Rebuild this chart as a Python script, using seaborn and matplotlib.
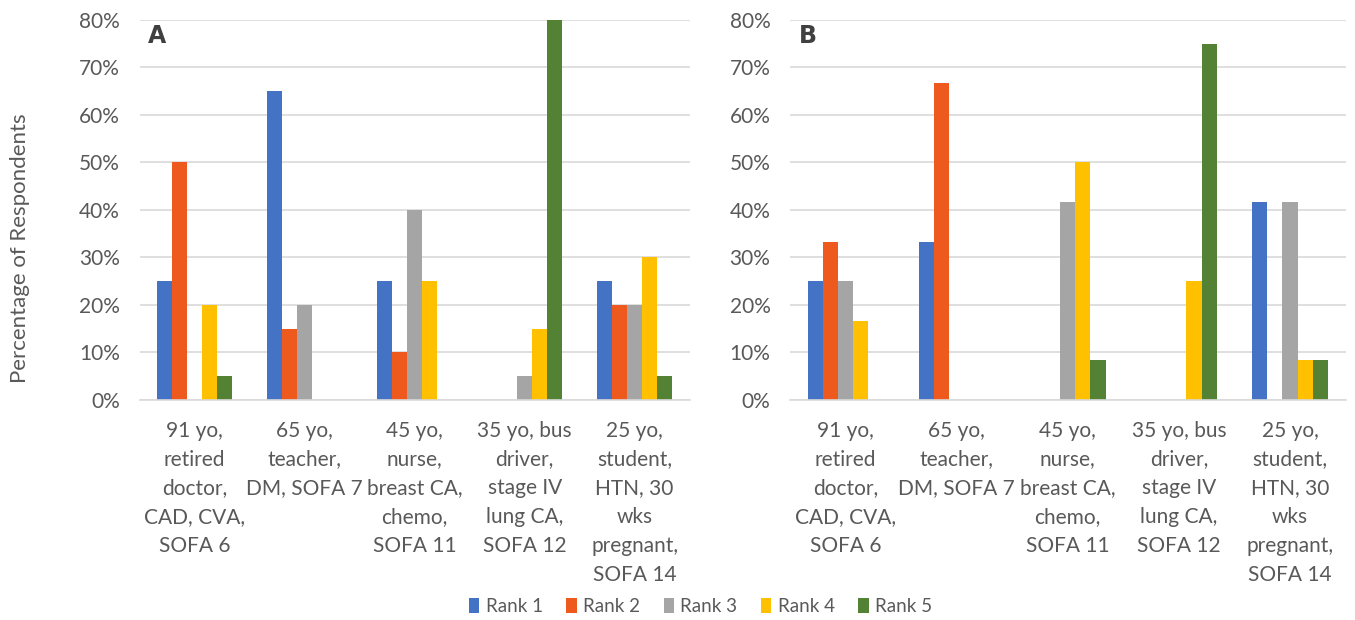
import matplotlib
matplotlib.use("Agg")
import matplotlib.pyplot as plt
from matplotlib.ticker import PercentFormatter, MultipleLocator
import seaborn as sns
import pandas as pd

cases = [
    "91 yo,\nretired\ndoctor,\nCAD, CVA,\nSOFA 6",
    "65 yo,\nteacher,\nDM, SOFA 7",
    "45 yo,\nnurse,\nbreast CA,\nchemo,\nSOFA 11",
    "35 yo, bus\ndriver,\nstage IV\nlung CA,\nSOFA 12",
    "25 yo,\nstudent,\nHTN, 30\nwks\npregnant,\nSOFA 14",
]
ranks = ["Rank 1", "Rank 2", "Rank 3", "Rank 4", "Rank 5"]

# Percentage of respondents per case, one list per rank
panel_a = {
    "Rank 1": [25, 65, 25, 0, 25],
    "Rank 2": [50, 15, 10, 0, 20],
    "Rank 3": [0, 20, 40, 5, 20],
    "Rank 4": [20, 0, 25, 15, 30],
    "Rank 5": [5, 0, 0, 80, 5],
}
panel_b = {
    "Rank 1": [25, 33.3, 0, 0, 41.7],
    "Rank 2": [33.3, 66.7, 0, 0, 0],
    "Rank 3": [25, 0, 41.7, 0, 41.7],
    "Rank 4": [16.7, 0, 50, 25, 8.3],
    "Rank 5": [0, 0, 8.3, 75, 8.3],
}
panel_letters = ["A", "B"]

colors = ["#4472C4", "#EE5A1E", "#A5A5A5", "#FFC000", "#548235"]


def to_long(panel):
    rows = []
    for r in ranks:
        for c, v in zip(cases, panel[r]):
            rows.append({"case": c, "rank": r, "pct": v})
    return pd.DataFrame(rows)


sns.set_theme(style="white")
plt.rcParams["font.family"] = ["Lato", "DejaVu Sans"]
text_color = "#595959"

fig = plt.figure(figsize=(13.55, 6.2), dpi=100)
ax_a = fig.add_axes([0.103, 0.355, 0.406, 0.613])
ax_b = fig.add_axes([0.583, 0.355, 0.410, 0.613])

for ax, panel, letter in zip([ax_a, ax_b], [panel_a, panel_b], panel_letters):
    df = to_long(panel)
    sns.barplot(data=df, x="case", y="pct", hue="rank", hue_order=ranks,
                order=cases, palette=colors, width=0.68, saturation=1,
                ax=ax, legend=(ax is ax_a), linewidth=0)
    ax.set_ylim(0, 80)
    ax.yaxis.set_major_locator(MultipleLocator(10))
    ax.yaxis.set_major_formatter(PercentFormatter(decimals=0))
    ax.grid(axis="y", color="#D9D9D9", linewidth=1.2)
    ax.set_axisbelow(True)
    for s in ["top", "right", "left"]:
        ax.spines[s].set_visible(False)
    ax.spines["bottom"].set_color("#D9D9D9")
    ax.spines["bottom"].set_linewidth(1.2)
    ax.set_xlabel("")
    ax.set_ylabel("")
    ax.tick_params(axis="both", length=0, labelsize=15, colors=text_color)
    ax.tick_params(axis="y", pad=14)
    ax.tick_params(axis="x", pad=15)
    plt.setp(ax.get_xticklabels(), ha="center", va="top", linespacing=1.55)
    ax.text(0.016, 0.99, letter, transform=ax.transAxes, fontsize=17,
            fontweight="bold", color="#404040", ha="left", va="top",
            family=["DejaVu Sans"])

handles, labels = ax_a.get_legend_handles_labels()
ax_a.get_legend().remove()
fig.legend(handles, labels, loc="center", bbox_to_anchor=(0.517, 0.022), ncol=5,
           frameon=False, fontsize=13.5, handlelength=0.55, handleheight=0.9,
           handletextpad=0.35, columnspacing=1.25, labelcolor=text_color)

fig.text(0.015, 0.6, "Percentage of Respondents", rotation=90, ha="center",
         va="center", fontsize=16, color=text_color)

fig.savefig("out.png", dpi=100)
